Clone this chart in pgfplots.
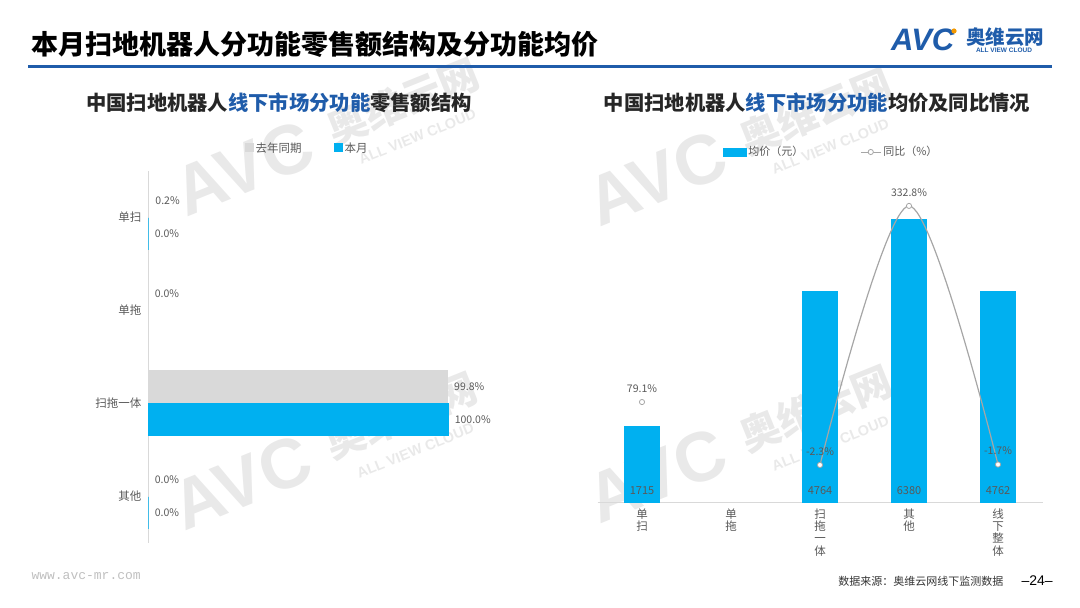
\documentclass[border=0pt]{standalone}
\usepackage{fontspec}
\setmainfont{Noto Sans CJK SC}
\newfontfamily\latinfont{Liberation Sans}
\newfontfamily\monofont{Liberation Mono}
\usepackage{pgfplots}
\pgfplotsset{compat=1.18}
\usepackage{pgfplotstable}

\definecolor{barblue}{RGB}{0,176,240}
\definecolor{bargray}{RGB}{217,217,217}
\definecolor{navy}{RGB}{31,92,170}
\definecolor{txt}{RGB}{89,89,89}
\definecolor{linegray}{RGB}{166,166,166}
\definecolor{wmgray}{RGB}{233,233,233}
\definecolor{logoorange}{RGB}{243,152,0}

% 零售额结构（%）：y=3 单扫, 2 单拖, 1 扫拖一体, 0 其他
\pgfplotstableread{
y   last  cur
3   0.2   0.0
2   0.0   nan
1   99.8  100.0
0   0.0   0.0
}\sharetab

% 均价（元）与同比（%）
\pgfplotstableread{
x  price  yoy
0  1715   79.1
1  nan    nan
2  4764   -2.3
3  6380   332.8
4  4762   -1.7
}\pricetab

% watermark: origin at the foot of the "A"
\newcommand\wm[2]{%
  \begin{scope}[shift={(#1pt,#2pt)}, rotate=22, transform shape]
    \node[anchor=south west, inner sep=0pt, text=wmgray, font=\latinfont\bfseries\fontsize{70}{70}\selectfont] at (0pt,0pt) {AVC};
    \node[inner sep=0pt, text=wmgray, font=\bfseries\fontsize{40}{40}\selectfont] at (244pt,27pt) {奥维云网};
    \node[inner sep=0pt, text=wmgray, font=\latinfont\bfseries\fontsize{14.5}{14.5}\selectfont] at (244pt,-11pt) {ALL VIEW CLOUD};
  \end{scope}}

\begin{document}
\begin{tikzpicture}
\useasboundingbox (0pt,0pt) rectangle (1080pt,608pt);

% watermarks
\wm{187}{390}
\wm{185}{76}
\wm{600}{380}
\wm{600}{83}

% header
\node[anchor=west, font=\bfseries\fontsize{27}{27}\selectfont, text=black] at (28pt,564pt) {本月扫地机器人分功能零售额结构及分功能均价};
\draw[navy, line width=3pt] (28pt,541pt) -- (1052pt,541pt);
\node[anchor=west, text=navy, font=\latinfont\bfseries\itshape\fontsize{31}{31}\selectfont, inner sep=0pt] at (891pt,568pt) {AVC};
\fill[logoorange] (954pt,577pt) circle (2.6pt);
\node[text=navy, font=\bfseries\fontsize{19.5}{19.5}\selectfont, inner sep=0pt] at (1005pt,571pt) {奥维云网};
\node[text=navy, font=\latinfont\bfseries\fontsize{6.5}{6.5}\selectfont, inner sep=0pt] at (1004pt,558pt) {ALL VIEW CLOUD};

% subtitles
\node[font=\bfseries\fontsize{20.3}{21}\selectfont, text=black!85] at (279pt,505pt) {中国扫地机器人{\color{navy}线下市场分功能}零售额结构};
\node[font=\bfseries\fontsize{20.3}{21}\selectfont, text=black!85] at (817pt,505pt) {中国扫地机器人{\color{navy}线下市场分功能}均价及同比情况};

% left chart
\begin{axis}[
  at={(148pt,65pt)}, anchor=south west, scale only axis,
  width=300pt, height=372pt,
  xmin=0, xmax=100, ymin=-0.5, ymax=3.5,
  xbar, bar width=32pt,
  axis x line=none, axis y line*=left,
  y axis line style={draw=bargray, line width=0.8pt, -},
  ytick={0,1,2,3}, yticklabels={其他,扫拖一体,单拖,单扫},
  major tick length=0pt,
  yticklabel style={font=\fontsize{11.5}{12}\selectfont, text=txt, xshift=-3pt},
  clip=false,
  /pgf/number format/assume math mode=true,
  point meta=x,
  nodes near coords={\pgfmathprintnumber[fixed, fixed zerofill, precision=1]{\pgfplotspointmeta}\%},
  nodes near coords style={font=\fontsize{10.5}{11}\selectfont, text=txt, anchor=west, xshift=3pt},
  legend columns=2,
  legend style={draw=none, fill=none, at={(0.53,1.062)}, anchor=center,
    font=\fontsize{11.5}{12}\selectfont, text=txt,
    /tikz/every even column/.append style={column sep=30pt}},
  legend image code/.code={\fill[#1] (0pt,-4pt) rectangle (8pt,4pt);},
]
\addplot[fill=bargray, draw=bargray, line width=1pt, bar shift=16.5pt] table[x=last, y=y] {\sharetab};
\addlegendentry{去年同期}
\addplot[fill=barblue, draw=barblue, line width=1pt, bar shift=-16.5pt] table[x=cur, y=y] {\sharetab};
\addlegendentry{本月}
\end{axis}

% right chart: bars
\begin{axis}[
  at={(597.5pt,106pt)}, anchor=south west, scale only axis,
  width=445pt, height=310pt,
  xmin=-0.5, xmax=4.5, ymin=0, ymax=7000,
  ybar, bar width=35pt,
  axis y line=none, axis x line*=bottom,
  x axis line style={draw=bargray, line width=0.8pt, -},
  xtick={0,1,2,3,4},
  xticklabels={单\\扫,单\\拖,扫\\拖\\一\\体,其\\他,线\\下\\整\\体},
  xticklabel style={font=\fontsize{11.5}{12.3}\selectfont, text=txt, align=center, yshift=-3pt},
  major tick length=0pt,
  clip=false,
  /pgf/number format/assume math mode=true,
  point meta=y,
  visualization depends on={y \as \rawy},
  nodes near coords={\pgfmathprintnumber[fixed, precision=0, 1000 sep={}]{\pgfplotspointmeta}},
  nodes near coords style={font=\fontsize{11}{12}\selectfont, text=txt, anchor=south,
    yshift={(4-0.0442857*\rawy)*1pt}},
]
\addplot[fill=barblue, draw=barblue, line width=0.6pt] table[x=x, y=price] {\pricetab};
\end{axis}

% right chart: yoy line
\begin{axis}[
  at={(597.5pt,106pt)}, anchor=south west, scale only axis,
  width=445pt, height=310pt,
  xmin=-0.5, xmax=4.5, ymin=-50.2, ymax=350.8,
  axis lines=none, clip=false,
  unbounded coords=jump,
  /pgf/number format/assume math mode=true,
  point meta=y,
  nodes near coords={\pgfmathprintnumber[fixed, fixed zerofill, precision=1]{\pgfplotspointmeta}\%},
  nodes near coords style={font=\fontsize{10.5}{11}\selectfont, text=txt, anchor=south, yshift=6pt},
  legend columns=2,
  legend style={draw=none, fill=none, at={(0.525,1.129)}, anchor=center,
    font=\fontsize{11}{12}\selectfont, text=txt,
    /tikz/every even column/.append style={column sep=55pt}},
]
\addlegendimage{legend image code/.code={\fill[barblue] (-2pt,-4pt) rectangle (21pt,4pt);}}
\addlegendentry{均价（元）}
\addplot[smooth, color=linegray, line width=1.2pt, mark=*, mark size=2.6pt,
  mark options={fill=white, draw=linegray, line width=0.8pt},
  legend image code/.code={\draw[linegray, line width=1pt] (0pt,0pt) -- (20pt,0pt);
    \draw[linegray, fill=white, line width=0.8pt] (10pt,0pt) circle (2.6pt);}]
  table[x=x, y=yoy] {\pricetab};
\addlegendentry{同比（\%）}
\end{axis}

% footer
\node[anchor=west, text=black!25, font=\monofont\fontsize{13}{13}\selectfont] at (28pt,32pt) {www.avc-mr.com};
\node[anchor=east, text=black!80, font=\fontsize{11}{11}\selectfont] at (1007pt,27pt) {数据来源：奥维云网线下监测数据};
\node[anchor=west, text=black, font=\latinfont\fontsize{14}{14}\selectfont] at (1018pt,27pt) {–24–};
\end{tikzpicture}
\end{document}
